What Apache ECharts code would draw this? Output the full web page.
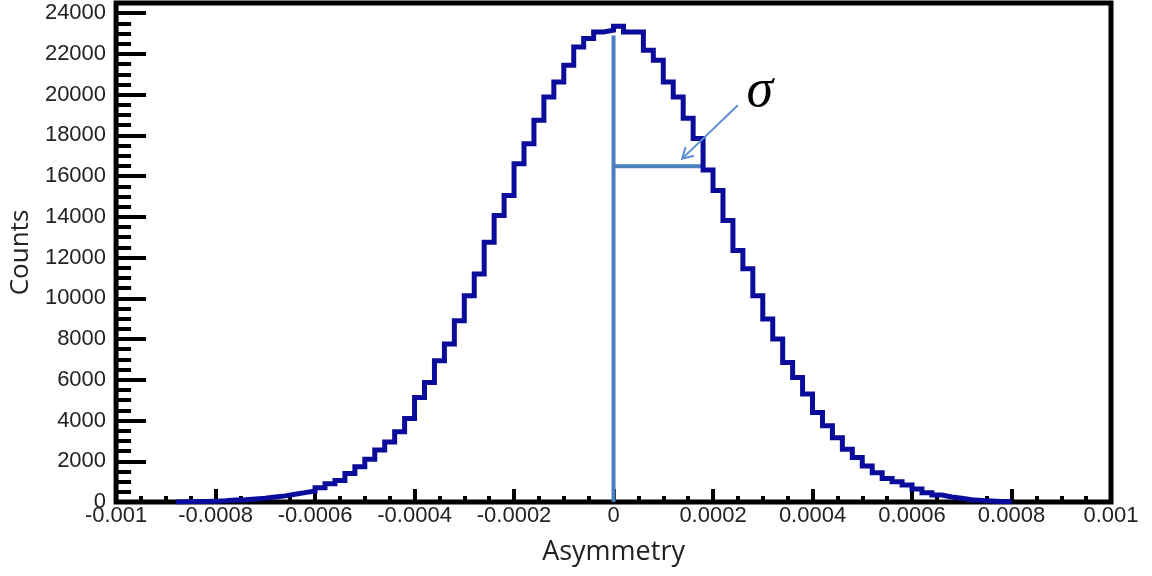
<!DOCTYPE html>
<html>
<head>
<meta charset="utf-8">
<script src="https://cdn.jsdelivr.net/npm/echarts@6/dist/echarts.min.js"></script>
<style>
  html, body { margin: 0; padding: 0; background: #ffffff; }
  #chart { width: 1152px; height: 576px; }
</style>
</head>
<body>
<div id="chart"></div>
<script>
// Histogram binning: 100 bins of width 2e-5 spanning [-0.001, 0.001]
const binStart = -0.001;
const binWidth = 0.00002;

// Counts per bin, left to right
const counts = [
  0, 0, 0, 0, 0, 0, 10, 20, 30, 40,
  60, 100, 110, 150, 190, 250, 300, 380, 460, 540,
  700, 900, 1050, 1400, 1730, 2100, 2550, 2950, 3450, 4100,
  5130, 5870, 6940, 7760, 8900, 10130, 11200, 12750, 14070, 15050,
  16610, 17590, 18740, 19890, 20620, 21440, 22340, 22760, 23080, 23170,
  23360, 23080, 23080, 22180, 21690, 20620, 19890, 18840, 17850, 16300,
  15300, 13820, 12350, 11450, 10130, 8990, 8000, 6850, 6110, 5300,
  4390, 3740, 3160, 2590, 2180, 1770, 1440, 1150, 1000, 830,
  640, 460, 340, 250, 180, 110, 80, 50, 30, 20,
  0, 0, 0, 0, 0, 0, 0, 0, 0, 0
];

// Axis ranges and tick steps
const xRange = [-0.001, 0.001];
const xMajorStep = 0.0002;
const yRange = [0, 24500];
const yMajorStep = 2000;
const yMinorStep = 500;

// Annotation: mean marker and sigma width, in data units
const meanLine = [[0, 0], [0, 22900]];
const sigmaLine = [[0, 16480], [0.00018, 16480]];
const arrowFrom = [0.00025, 19480];
const arrowTo = [0.000138, 16860];
const sigmaLabelAt = [0.000294, 20150];

// Build step-line points for the histogram outline (skip empty tails)
let first = counts.findIndex(c => c > 0);
let last = counts.length - 1 - [...counts].reverse().findIndex(c => c > 0);
const histPoints = [[binStart + first * binWidth, 0]];
for (let i = first; i <= last; i++) {
  histPoints.push([binStart + i * binWidth, counts[i]]);
}
histPoints.push([binStart + (last + 1) * binWidth, 0]);

const chart = echarts.init(document.getElementById('chart'), null, { renderer: 'canvas' });

const tickFont = 'Liberation Sans, Arial, sans-serif';
const titleFont = 'Open Sans, sans-serif';

const option = {
  animation: false,
  backgroundColor: '#ffffff',
  grid: {
    left: 111, right: 41, top: 3, bottom: 74,
    show: true, borderColor: '#000000', borderWidth: 5, backgroundColor: 'transparent'
  },
  xAxis: {
    type: 'value',
    min: xRange[0], max: xRange[1], interval: xMajorStep,
    axisLine: { show: false, onZero: false },
    axisTick: { show: true, inside: true, length: 13, lineStyle: { color: '#000', width: 4 } },
    minorTick: { show: true, splitNumber: 4, length: 6, lineStyle: { color: '#000', width: 4 } },
    splitLine: { show: false },
    minorSplitLine: { show: false },
    axisLabel: {
      margin: 3, fontSize: 22, color: '#222', fontFamily: tickFont,
      formatter: v => parseFloat(v.toFixed(6)).toString()
    },
    name: 'Asymmetry', nameLocation: 'middle', nameGap: 37,
    nameTextStyle: { fontSize: 27, color: '#222', fontFamily: titleFont }
  },
  yAxis: [
    {
      type: 'value', position: 'left',
      min: yRange[0], max: yRange[1], interval: yMajorStep,
      axisLine: { show: false, onZero: false },
      axisTick: { show: true, inside: true, length: 30, lineStyle: { color: '#000', width: 4 } },
      splitLine: { show: false },
      axisLabel: {
        margin: 10, fontSize: 22, color: '#222', fontFamily: tickFont,
        formatter: v => (v % yMajorStep === 0 ? String(v) : '')
      },
      name: 'Counts', nameLocation: 'middle', nameGap: 80, nameRotate: 90,
      nameTextStyle: { fontSize: 26, color: '#222', fontFamily: titleFont }
    },
    {
      type: 'value', position: 'left',
      min: yRange[0], max: yRange[1], interval: yMinorStep,
      axisLine: { show: false, onZero: false },
      axisTick: { show: true, inside: true, length: 15, lineStyle: { color: '#000', width: 4 } },
      splitLine: { show: false },
      axisLabel: { show: false }
    }
  ],
  series: [
    {
      name: 'Histogram',
      type: 'line',
      step: 'end',
      data: histPoints,
      symbol: 'none',
      lineStyle: { color: '#0b0b9c', width: 5, join: 'miter' },
      z: 5
    },
    {
      name: 'Mean',
      type: 'line',
      data: meanLine,
      symbol: 'none',
      lineStyle: { color: '#4a7fc1', width: 4 },
      z: 4
    },
    {
      name: 'Sigma',
      type: 'line',
      data: sigmaLine,
      symbol: 'none',
      lineStyle: { color: '#4a7fc1', width: 4 },
      z: 4
    }
  ]
};

chart.setOption(option);

// Arrow pointing at the sigma bar, plus the sigma symbol
function drawAnnotation() {
  const p0 = chart.convertToPixel({ gridIndex: 0 }, arrowFrom);
  const p1 = chart.convertToPixel({ gridIndex: 0 }, arrowTo);
  const pt = chart.convertToPixel({ gridIndex: 0 }, sigmaLabelAt);
  const ang = Math.atan2(p1[1] - p0[1], p1[0] - p0[0]);
  const headLen = 12, spread = Math.PI / 6;
  const h1 = [p1[0] - headLen * Math.cos(ang - spread), p1[1] - headLen * Math.sin(ang - spread)];
  const h2 = [p1[0] - headLen * Math.cos(ang + spread), p1[1] - headLen * Math.sin(ang + spread)];
  const stroke = { stroke: '#5b8fd0', lineWidth: 2, fill: null };
  chart.setOption({
    graphic: [
      { type: 'polyline', shape: { points: [p0, p1] }, style: stroke, z: 10 },
      { type: 'polyline', shape: { points: [h1, p1, h2] }, style: stroke, z: 10 },
      {
        type: 'text', x: pt[0], y: pt[1], z: 10,
        style: {
          text: 'σ', font: 'italic 54px "Liberation Serif", "Times New Roman", serif',
          fill: '#000', align: 'center', verticalAlign: 'middle'
        }
      }
    ]
  });
}
drawAnnotation();
</script>
</body>
</html>
